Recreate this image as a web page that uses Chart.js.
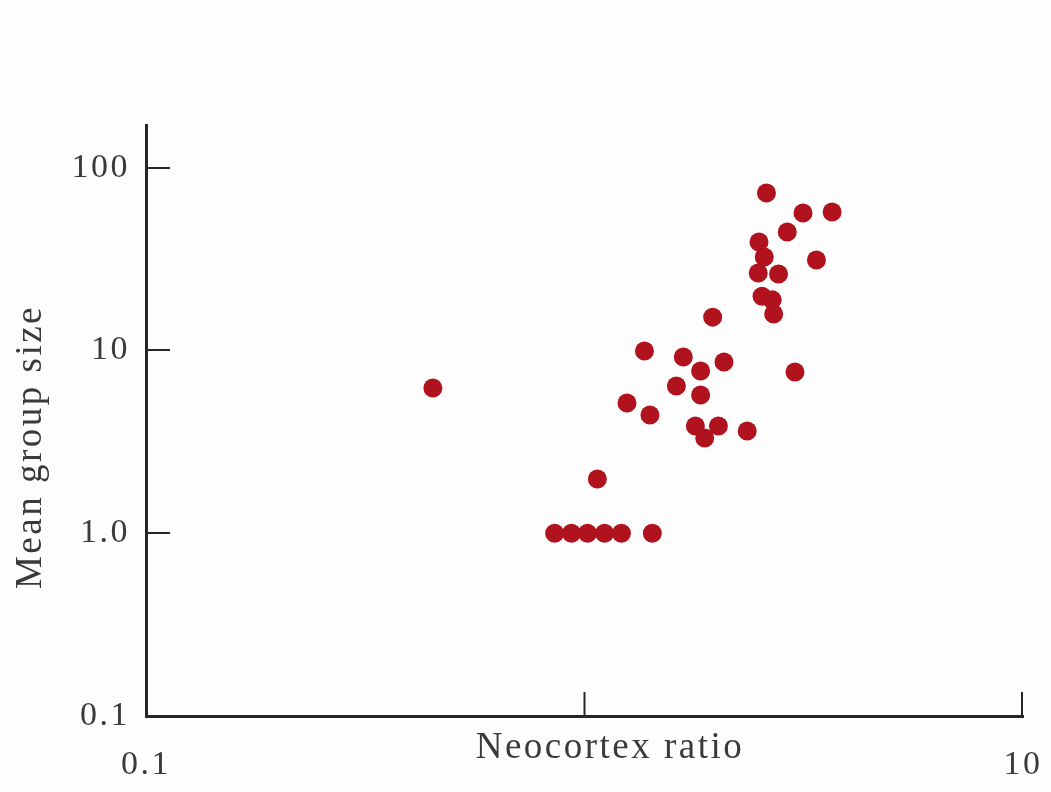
<!DOCTYPE html>
<html><head><meta charset="utf-8">
<script src="https://cdn.jsdelivr.net/npm/chart.js@4.4.1/dist/chart.umd.min.js"></script>
<style>html,body{margin:0;padding:0;background:#fdfdfd;} canvas{display:block;}</style>
</head><body>
<canvas id="c" width="1051" height="792"></canvas>
<script>
const neocortexRatio = [2.60, 3.15, 3.67, 2.90, 2.50, 2.57, 3.38, 2.49, 2.77, 2.54, 2.68, 2.70,
  1.96, 1.37, 1.68, 2.08, 1.84, 3.02, 0.451, 1.62, 1.84, 1.25, 1.41, 1.79, 2.02, 1.88, 2.35,
  1.07, 0.855, 0.934, 1.016, 1.111, 1.214, 1.428];
const meanGroupSize = [72.6, 56.4, 57.2, 44.4, 39.2, 32.4, 31.2, 26.5, 26.2, 19.8, 18.9, 15.8,
  15.2, 9.92, 9.20, 8.64, 7.72, 7.62, 6.23, 6.39, 5.70, 5.16, 4.43, 3.86, 3.86, 3.32, 3.62,
  1.98, 1.0, 1.0, 1.0, 1.0, 1.0, 1.0];
const xTickValues = [0.1, 1, 10];
const xTickLabels = ['0.1', '', '10'];
const yTickValues = [0.1, 1, 10, 100];
const yTickLabels = ['0.1', '1.0', '10', '100'];
const xTitle = 'Neocortex ratio';
const yTitle = 'Mean group size';

const FONT = "'Liberation Serif', 'Times New Roman', serif";
const TEXT = '#3a3a3a';
const AXIS = '#262626';

const points = neocortexRatio.map((x, i) => ({x, y: meanGroupSize[i]}));

const decor = {
  id: 'decor',
  beforeDraw(chart) {
    const ctx = chart.ctx;
    ctx.save();
    ctx.fillStyle = '#fdfdfd';
    ctx.fillRect(0, 0, chart.width, chart.height);
    ctx.restore();
    ctx.letterSpacing = '2.5px';
  },
  afterDraw(chart) {
    const ctx = chart.ctx;
    const {left, bottom} = chart.chartArea;
    const xs = chart.scales.x, ys = chart.scales.y;
    ctx.save();
    ctx.strokeStyle = AXIS;
    ctx.lineWidth = 2;
    yTickValues.slice(1).forEach(v => {
      const y = Math.round(ys.getPixelForValue(v)) + 0.0;
      ctx.beginPath(); ctx.moveTo(left, y); ctx.lineTo(left + 24, y); ctx.stroke();
    });
    xTickValues.slice(1).forEach((v, i) => {
      let x = xs.getPixelForValue(v);
      if (i === xTickValues.length - 2) x -= 1;
      ctx.beginPath(); ctx.moveTo(x, bottom); ctx.lineTo(x, bottom - 24); ctx.stroke();
    });
    ctx.fillStyle = TEXT;
    ctx.letterSpacing = '2.5px';
    ctx.font = '37px ' + FONT;
    ctx.textAlign = 'center';
    ctx.textBaseline = 'middle';
    ctx.fillText(xTitle, 610, 748);
    ctx.translate(31, 447);
    ctx.rotate(-Math.PI / 2);
    ctx.fillText(yTitle, 0, 0);
    ctx.restore();
  }
};

new Chart(document.getElementById('c'), {
  type: 'scatter',
  data: {
    datasets: [{
      data: points,
      pointRadius: 9.5,
      pointHoverRadius: 9.5,
      backgroundColor: '#b0121e',
      borderWidth: 0,
      clip: false
    }]
  },
  options: {
    responsive: false,
    animation: false,
    events: [],
    layout: {padding: {top: 125, right: 28, left: 0, bottom: 0}},
    plugins: {legend: {display: false}, tooltip: {enabled: false}},
    scales: {
      x: {
        type: 'logarithmic',
        min: 0.1, max: 10,
        afterFit(s) { s.height = 76; s.paddingLeft = 0; s.paddingRight = 0; },
        afterBuildTicks(s) { s.ticks = xTickValues.map(v => ({value: v})); },
        grid: {display: false, drawTicks: false},
        border: {display: true, width: 3, color: AXIS},
        ticks: {
          autoSkip: false, maxRotation: 0, padding: 29, color: TEXT,
          font: {family: FONT, size: 34},
          callback: (v, i) => xTickLabels[i]
        }
      },
      y: {
        type: 'logarithmic',
        min: 0.1, max: 171,
        afterFit(s) { s.width = 146; s.paddingTop = 0; s.paddingBottom = 0; },
        afterBuildTicks(s) { s.ticks = yTickValues.map(v => ({value: v})); },
        grid: {display: false, drawTicks: false},
        border: {display: true, width: 3, color: AXIS},
        ticks: {
          autoSkip: false, padding: 16, color: TEXT,
          font: {family: FONT, size: 34},
          callback: (v, i) => yTickLabels[i]
        }
      }
    }
  },
  plugins: [decor]
});
</script>
</body></html>
